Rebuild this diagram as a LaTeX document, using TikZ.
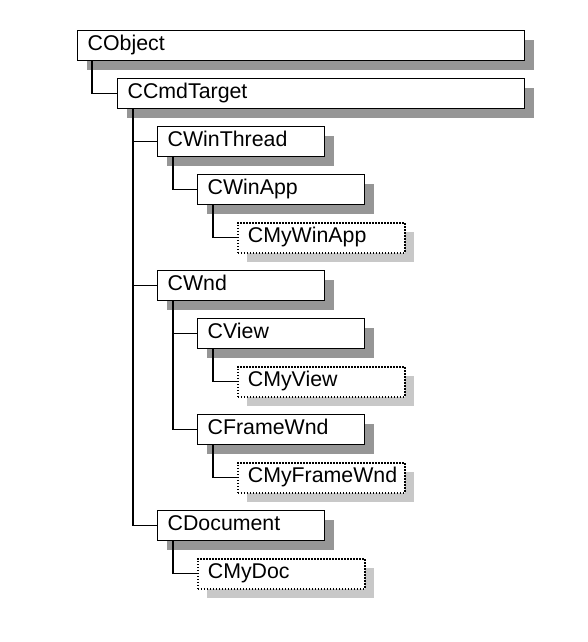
\documentclass[tikz,border=0pt]{standalone}
\usepackage{fontspec}
\setmainfont{Liberation Sans}
\usetikzlibrary{shadows}
\definecolor{shdark}{RGB}{150,150,150}
\definecolor{shlight}{RGB}{200,200,200}
\begin{document}
\begin{tikzpicture}[x=0.75pt,y=-0.75pt,
  basebox/.style={draw=black, line width=1pt, fill=white, anchor=north west,
    minimum height=22.5pt, inner xsep=7.5pt, inner ysep=0pt,
    text height=11pt, text depth=3.5pt, align=left,
    font=\fontsize{16}{18}\selectfont},
  cls/.style={basebox, drop shadow={shadow xshift=6.75pt, shadow yshift=-6.75pt, fill=shdark, opacity=1}},
  usr/.style={basebox, line width=1.3pt, dash pattern=on 1.2pt off 1.05pt,
    drop shadow={shadow xshift=6.75pt, shadow yshift=-6.75pt, fill=shlight, opacity=1, solid}},
  wide/.style={text width=320.25pt},
  mid/.style={text width=290.25pt},
  std/.style={text width=110.25pt},
  conn/.style={draw=black, line width=0.8pt}
]
\useasboundingbox[fill=white] (0,0) rectangle (588,642);

\node[cls, wide] (obj) at (77,30) {CObject};
\node[cls, mid]  (cmd) at (117,78) {CCmdTarget};
\node[cls, std]  (thr) at (157,126) {CWinThread};
\node[cls, std]  (app) at (197,174) {CWinApp};
\node[usr, std]  (myapp) at (237,222) {CMyWinApp};
\node[cls, std]  (wnd) at (157,270) {CWnd};
\node[cls, std]  (view) at (197,318) {CView};
\node[usr, std]  (myview) at (237,366) {CMyView};
\node[cls, std]  (frm) at (197,414) {CFrameWnd};
\node[usr, std]  (myfrm) at (237,462) {CMyFrameWnd};
\node[cls, std]  (doc) at (157,510) {CDocument};
\node[usr, std]  (mydoc) at (197,558) {CMyDoc};

\draw[conn] ([xshift=11.25pt]obj.south west) |- (cmd.west);
\draw[conn] ([xshift=12pt]cmd.south west) |- (thr.west);
\draw[conn] ([xshift=12pt]cmd.south west) |- (wnd.west);
\draw[conn] ([xshift=12pt]cmd.south west) |- (doc.west);
\draw[conn] ([xshift=12pt]thr.south west) |- (app.west);
\draw[conn] ([xshift=12pt]app.south west) |- (myapp.west);
\draw[conn] ([xshift=12pt]wnd.south west) |- (view.west);
\draw[conn] ([xshift=12pt]wnd.south west) |- (frm.west);
\draw[conn] ([xshift=12pt]view.south west) |- (myview.west);
\draw[conn] ([xshift=12pt]frm.south west) |- (myfrm.west);
\draw[conn] ([xshift=12pt]doc.south west) |- (mydoc.west);
\end{tikzpicture}
\end{document}
